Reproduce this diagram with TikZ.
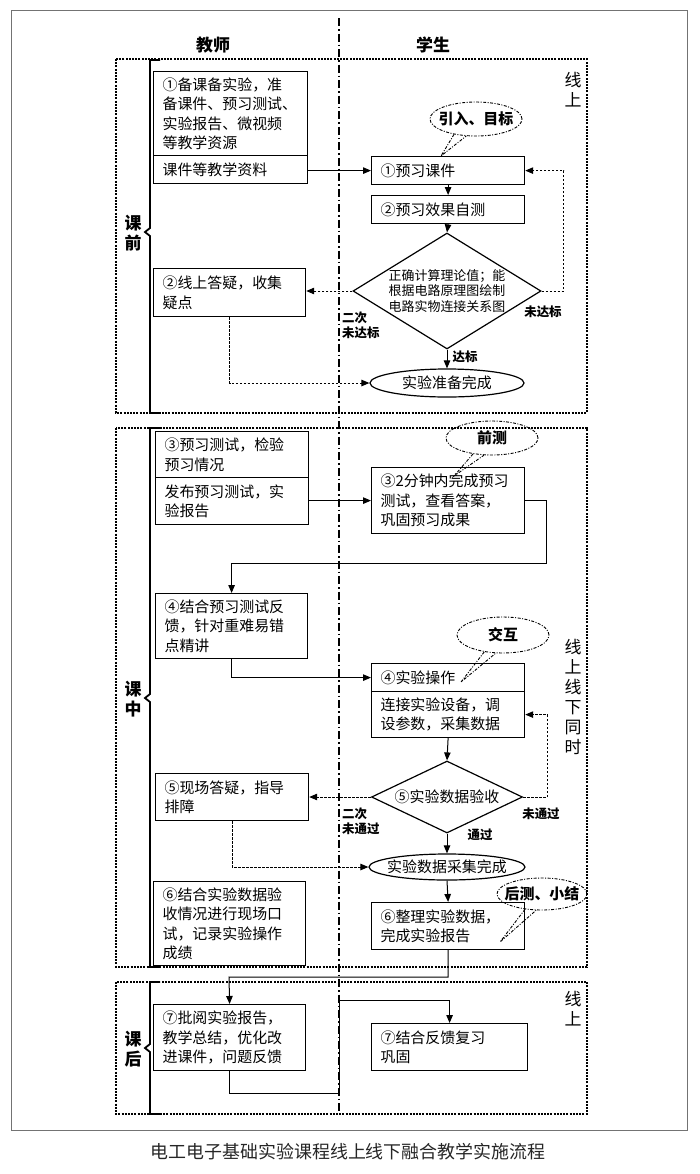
\documentclass[tikz,border=0pt]{standalone}
\usepackage{fontspec}
\setmainfont{Noto Sans CJK SC}
\usetikzlibrary{shapes.geometric,arrows.meta,calc}
\begin{document}
\begin{tikzpicture}[x=1bp,y=-1bp,
  box/.style={draw, line width=1.2bp, rectangle, anchor=north west, inner xsep=9bp, inner ysep=1bp, align=left, font=\fontsize{15}{19.5}\selectfont},
  flow/.style={line width=1bp, -{Triangle[length=8bp,width=6.5bp]}},
  fback/.style={flow, dash pattern=on 2.5bp off 1.5bp},
  section/.style={line width=1.2bp, dash pattern=on 2bp off 1.2bp},
  midline/.style={line width=1.5bp, dash pattern=on 8bp off 3bp on 1.5bp off 3bp},
  callout/.style={draw, ellipse, inner sep=0pt, line width=0.9bp, dash pattern=on 3bp off 1.5bp on 1bp off 1.5bp},
  calltail/.style={line width=0.9bp, dash pattern=on 3bp off 1.5bp on 1bp off 1.5bp},
  calltext/.style={font=\bfseries\fontsize{15}{18}\selectfont},
  bracket/.style={line width=1.8bp},
  sidelabel/.style={font=\bfseries\fontsize{17}{20}\selectfont, align=center},
  modelabel/.style={font=\fontsize{17}{20}\selectfont, align=center},
  small/.style={font=\bfseries\fontsize{12.5}{15}\selectfont, align=left, inner sep=0pt},
  header/.style={font=\bfseries\fontsize{17}{20}\selectfont}
]
\useasboundingbox (0,0) rectangle (700,1174);
% outer frame
\draw[line width=1bp, black!55] (11,10) rectangle (687,1130);
% section boxes
\draw[section] (116,59) rectangle (587,413);
\draw[section] (116,428) rectangle (587,967);
\draw[section] (116,982) rectangle (587,1114);
% middle line
\draw[midline] (339,18) -- (339,1114);
% headers
\node[header] (h1) at (213,45) {教师};
\node[header] (h2) at (433,45) {学生};
% brackets
\draw[bracket] (160,60) -- (150,60) -- (150,228) -- (145,232) -- (150,236) -- (150,413) -- (160,413);
\draw[bracket] (160,428) -- (150,428) -- (150,694) -- (145,698) -- (150,702) -- (150,967) -- (160,967);
\draw[bracket] (160,982) -- (150,982) -- (150,1044) -- (145,1048) -- (150,1052) -- (150,1114) -- (160,1114);
\node[sidelabel] (l1) at (133,233) {课\\前};
\node[sidelabel] (l2) at (133,699) {课\\中};
\node[sidelabel] (l3) at (133,1049) {课\\后};
\node[modelabel] (m1) at (573,90) {线\\上};
\node[modelabel] (m2) at (573,697) {线\\上\\线\\下\\同\\时};
\node[modelabel] (m3) at (573,1009) {线\\上};

% ===== section 1 =====
\node[box, minimum width=154bp, minimum height=84bp, text width=136bp] (t1) at (153,71) {①备课备实验，准\\备课件、预习测试、\\实验报告、微视频\\等教学资源};
\node[box, minimum width=154bp, minimum height=28bp, text width=136bp] (t1b) at (153,155) {课件等教学资料};
\node[box, minimum width=152bp, minimum height=48bp, text width=134bp] (t2) at (153,268) {②线上答疑，收集\\疑点};
\node[box, minimum width=153bp, minimum height=28bp, text width=135bp] (s1) at (371,156) {①预习课件};
\node[box, minimum width=153bp, minimum height=28bp, text width=135bp] (s2) at (371,195) {②预习效果自测};
\node[draw, diamond, line width=1.2bp, minimum width=188bp, minimum height=116bp, inner sep=0pt] (d1) at (447,291) {};
\node[font=\fontsize{13}{16}\selectfont, align=center] (d1t) at (d1) {正确计算理论值；能\\根据电路原理图绘制\\电路实物连接关系图};
\node[draw, ellipse, line width=1.2bp, minimum width=154bp, minimum height=28bp, inner sep=0pt] (e1) at (447,383) {};
\node[font=\fontsize{15}{18}\selectfont] (e1t) at (e1) {实验准备完成};

\node[callout, minimum width=92bp, minimum height=34bp] (c1) at (476,119) {};
\node[calltext] (c1t) at (c1) {引入、目标};
\coordinate (c1tip) at (441,156);
\draw[calltail] (c1.215) -- (c1tip) -- (c1.240);

\draw[flow] (t1b.east |- s1.west) -- (s1.west);
\draw[flow] (s1.south) -- (s2.north);
\draw[flow] (s2.south) -- (d1.north);
\draw[fback] (d1.east) -- ++(22,0) |- (s1.east);
\draw[fback] (d1.west) -- (d1.west -| t2.east);
\draw[flow] (d1.south) -- (e1.north);
\draw[fback] (t2.south) |- (e1.west);
\node[small, anchor=center] (n1) at (543,312) {未达标};
\node[small, anchor=west] (n2) at (342,325) {二次\\未达标};
\node[small, anchor=center] (n3) at (465,357) {达标};

% ===== section 2 =====
\node[box, minimum width=153bp, minimum height=46bp, text width=135bp] (t3) at (155,431) {③预习测试，检验\\预习情况};
\node[box, minimum width=153bp, minimum height=47bp, text width=135bp] (t3b) at (155,477) {发布预习测试，实\\验报告};
\node[box, minimum width=153bp, minimum height=66bp, text width=135bp] (s3) at (371,467) {③2分钟内完成预习\\测试，查看答案，\\巩固预习成果};
\node[box, minimum width=152bp, minimum height=65bp, text width=134bp] (t4) at (155,593) {④结合预习测试反\\馈，针对重难易错\\点精讲};
\node[box, minimum width=153bp, minimum height=28bp, text width=135bp] (s4) at (371,663) {④实验操作};
\node[box, minimum width=153bp, minimum height=46bp, text width=135bp] (s4b) at (371,691) {连接实验设备，调\\设参数，采集数据};
\node[draw, diamond, line width=1.2bp, minimum width=151bp, minimum height=72bp, inner sep=0pt] (d2) at (447,797) {};
\node[font=\fontsize{15}{18}\selectfont] (d2t) at (d2) {⑤实验数据验收};
\node[box, minimum width=153bp, minimum height=47bp, text width=135bp] (t5) at (155,773) {⑤现场答疑，指导\\排障};
\node[draw, ellipse, line width=1.2bp, minimum width=156bp, minimum height=26bp, inner sep=0pt] (e2) at (447,867) {};
\node[font=\fontsize{15}{18}\selectfont] (e2t) at (e2) {实验数据采集完成};
\node[box, minimum width=153bp, minimum height=47bp, text width=135bp] (s6) at (371,902) {⑥整理实验数据，\\完成实验报告};
\node[box, minimum width=152bp, minimum height=84bp, text width=134bp] (t6) at (153,881) {⑥结合实验数据验\\收情况进行现场口\\试，记录实验操作\\成绩};

\node[callout, minimum width=92bp, minimum height=34bp] (c2) at (492,438) {};
\node[calltext] (c2t) at (c2) {前测};
\coordinate (c2tip) at (454,476);
\draw[calltail] (c2.220) -- (c2tip) -- (c2.245);
\node[callout, minimum width=92bp, minimum height=36bp] (c3) at (503,635) {};
\node[calltext] (c3t) at (c3) {交互};
\coordinate (c3tip) at (461,682);
\draw[calltail] (c3.222) -- (c3tip) -- (c3.248);
\node[callout, minimum width=90bp, minimum height=32bp] (c4) at (542,894) {};
\node[calltext] (c4t) at (c4) {后测、小结};
\coordinate (c4tip) at (500,942);
\draw[calltail] (c4.222) -- (c4tip) -- (c4.250);

\coordinate (k1) at (546,563);
\draw[flow] (t3b.east |- s3.west) -- (s3.west);
\draw[flow] (s3.east) -| (k1) -| (t4.north);
\draw[flow] (t4.south) |- (s4.west);
\draw[flow] (s4b.south) -- (d2.north);
\draw[fback] (d2.east) -- ++(24,0) |- (s4b.east);
\draw[fback] (d2.west) -- (d2.west -| t5.east);
\draw[flow] (d2.south) -- (e2.north);
\draw[fback] (t5.south) |- (e2.west);
\draw[flow] (e2.south) -- (s6.north);
\node[small, anchor=center] (n4) at (541,814) {未通过};
\node[small, anchor=west] (n5) at (342,821) {二次\\未通过};
\node[small, anchor=center] (n6) at (480,835) {通过};

% ===== section 3 =====
\node[box, minimum width=152bp, minimum height=66bp, text width=134bp] (t7) at (153,1004) {⑦批阅实验报告，\\教学总结，优化改\\进课件，问题反馈};
\node[box, minimum width=156bp, minimum height=47bp, text width=138bp] (s7) at (371,1023) {⑦结合反馈复习\\巩固};
\coordinate (k2) at (229,977);
\coordinate (k3) at (339,1093);
\coordinate (k4) at (339,1000);
\draw[flow] (s6.south) |- (k2) -- (t7.north);
\draw[flow] (t7.south) |- (k3) -- (k4) -| (s7.north);

% caption
\node[font=\fontsize{18}{20}\selectfont, text=black!85] (cap) at (348,1152) {电工电子基础实验课程线上线下融合教学实施流程};
\end{tikzpicture}
\end{document}
